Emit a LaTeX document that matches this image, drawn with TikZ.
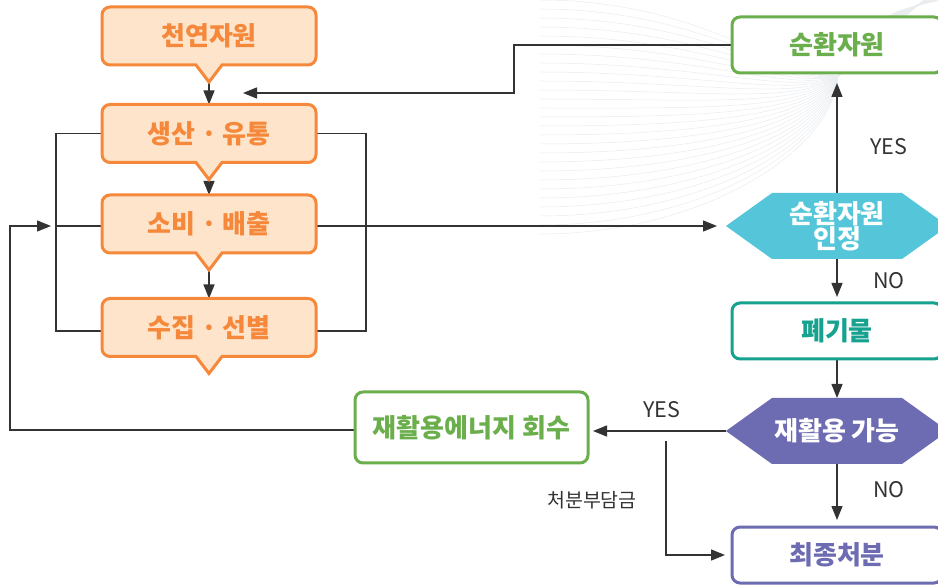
\documentclass[tikz,border=0pt]{standalone}
\usepackage{fontspec}
\setmainfont{Noto Sans CJK KR}
\usetikzlibrary{arrows.meta,calc}
\pgfdeclarelayer{bg}
\pgfdeclarelayer{lines}
\pgfdeclarelayer{shapes}
\pgfsetlayers{bg,lines,shapes,main}
\definecolor{orc}{HTML}{F5883A}
\definecolor{pch}{HTML}{FDE4CA}
\definecolor{grn}{HTML}{6BAF4C}
\definecolor{tea}{HTML}{16A28F}
\definecolor{pur}{HTML}{6D6BB1}
\definecolor{cya}{HTML}{55C6D9}
\definecolor{lnc}{HTML}{333333}
\definecolor{bgc}{HTML}{E9EDF0}
\newcommand\tailbox[1]{%
  \coordinate (#1t) at ($(#1.south)+(0,17)$);
  \begin{pgfonlayer}{shapes}
  \draw[obox] (#1t) -- ($(#1.south)+(-13,0)$) [rounded corners=8pt] -- (#1.south west) -- (#1.north west) -- (#1.north east) -- (#1.south east) [sharp corners] -- ($(#1.south)+(13,0)$) -- cycle;
  \end{pgfonlayer}}
\newcommand\hexa[2]{%
  \begin{pgfonlayer}{shapes}
  \fill[#2] (#1.west) -- ($(#1.north west)+(46,0)$) -- ($(#1.north east)+(-46,0)$) -- (#1.east) -- ($(#1.south east)+(-46,0)$) -- ($(#1.south west)+(46,0)$) -- cycle;
  \end{pgfonlayer}}
\begin{document}
\begin{tikzpicture}[x=1pt,y=-1pt,
  every node/.style={inner sep=0pt,outer sep=0pt},
  otxt/.style={minimum width=214pt,minimum height=58pt,text=orc,font=\fontsize{26}{28}\selectfont\bfseries},
  obox/.style={draw=orc,fill=pch,line width=3pt,line join=miter},
  rbox/.style={draw=#1,text=#1,fill=white,line width=3pt,rounded corners=8pt,minimum width=210pt,minimum height=56pt,font=\fontsize{26}{28}\selectfont\bfseries},
  htxt/.style={minimum width=222pt,minimum height=66pt,text=white,align=center,font=\fontsize{26}{25}\selectfont\bfseries},
  ln/.style={draw=lnc,line width=1.3pt},
  arr/.style={ln,-{Triangle[length=14pt,width=11pt]}},
  lab/.style={text=lnc,font=\fontsize{21.5}{23}\selectfont},
  bgl/.style={draw=bgc,line width=0.5pt}]
\useasboundingbox (0,0) rectangle (938,585);
\clip (0,0) rectangle (938,585);
% decorative background curves
\begin{pgfonlayer}{bg}
\fill[white] (0,0) rectangle (938,585);
\foreach \i in {0,...,26}{
  \draw[bgl] (540,{\i*9}) .. controls (700,{\i*9}) and ({780+2*\i},{75+3*\i}) .. (838,76)
     .. controls ({870},{60-2*\i}) and (900,10) .. (960,{-25+\i*0.8});
}
\end{pgfonlayer}
% orange process boxes
\node[otxt] (n1) at (209,36) {천연자원};
\node[otxt] (n2) at (209,133.5) {생산 · 유통};
\node[otxt] (n3) at (209,224) {소비 · 배출};
\node[otxt] (n4) at (209,327.5) {수집 · 선별};
\tailbox{n1}\tailbox{n2}\tailbox{n3}\tailbox{n4}
% right column
\node[rbox=grn] (r1) at (837,45) {순환자원};
\node[htxt] (h1) at (837,226) {순환자원\\인정};
\hexa{h1}{cya}
\node[rbox=tea] (p1) at (837,331) {폐기물};
\node[htxt] (h2) at (837,431) {재활용 가능};
\hexa{h2}{pur}
\node[rbox=pur] (f1) at (837,555) {최종처분};
\node[rbox=grn,minimum width=233pt,minimum height=71pt] (e1) at (471.5,427.5) {재활용에너지 회수};
% labels
\node[lab] (y1) at (889,147) {YES};
\node[lab] (o1) at (889,281) {NO};
\node[lab] (y2) at (662,410) {YES};
\node[lab] (o2) at (889,490) {NO};
\node[lab,font=\fontsize{19.5}{21}\selectfont] (cb) at (592,500) {처분부담금};
% coordinates
\coordinate (topin) at (243,93);
\coordinate (lm) at (56,226);
\coordinate (lin) at (51,226);
\coordinate (cbs) at (666,441);
\begin{pgfonlayer}{lines}
\draw[arr] (n1t) -- (n2.north);
\draw[arr] (n2t) -- (n3.north);
\draw[arr] (n3t) -- (n4.north);
\draw[arr] (r1.west) -- (514,45) -- (514,93) -- (topin);
\draw[ln] (n2.west) -| (lm) |- ($(n4.west)+(0,3.5)$);
\draw[ln] (n3.west |- lm) -- (lm);
\draw[arr] ($(e1.west)+(0,2.5)$) -| (10,300) |- (lin);
\draw[ln] (n2.east) -| (366,226) |- ($(n4.east)+(0,3.5)$);
\draw[arr,shorten >=9pt] (n3.east |- h1.west) -- (h1.west);
\draw[arr,shorten >=10pt] (h1.north) -- (r1.south);
\draw[arr,shorten >=6pt] (h1.south) -- (p1.north);
\draw[arr] (p1.south) -- (h2.north);
\draw[arr,shorten >=5pt] (h2.west) -- (e1.east |- h2.west);
\draw[arr,shorten >=7pt] (h2.south) -- (f1.north);
\draw[arr,shorten >=7pt] (cbs) |- (f1.west);
\end{pgfonlayer}
\end{tikzpicture}
\end{document}
